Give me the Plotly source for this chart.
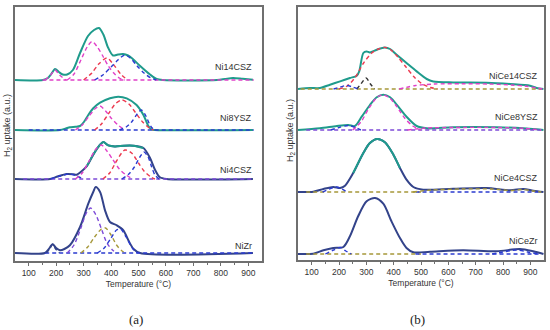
import plotly.graph_objects as go

# ---------------- DATA (temperature °C, H2 uptake a.u. above each baseline) ----------------
# Panel (a) measured profiles
ni14csz = [(50,0),(152,0),(170,2),(182,6),(196,11),(210,8),(224,5.5),(240,5.5),(261,10),(287,27),(316,44),(338,50),(356,52),(372,45.5),(389,32.5),(407,24.5),(425,25.5),(444,26),(462,24.5),(475,22),(506,14),(542,5.5),(566,1),(589,0),(786,0),(815,1),(844,2),(880,1.2),(917,0.3)]
ni8ysz = [(50,0),(214,0),(235,1.5),(250,2.7),(270,3.2),(287,4),(301,8),(317,15),(335,21.7),(360,27.3),(396,31.7),(426,33.3),(457,31.7),(493,25),(518,15),(536,4),(548,0.5),(560,0),(917,0)]
ni4csz = [(50,0),(178,0),(205,2.5),(238,5),(262,4.8),(275,4.3),(311,12.6),(335,24.3),(360,34.3),(372,37),(390,33.6),(414,32.6),(447,33.3),(481,33.3),(518,31),(542,21),(560,9.3),(578,1.7),(603,0),(917,0)]
nizr = [(50,0),(159,0),(172,3.5),(187,8.7),(200,5),(214,2.7),(230,4),(250,7.7),(287,26),(317,49.3),(335,61),(344,66),(360,61),(378,42.7),(396,31),(421,27.7),(445,22.7),(463,12.7),(481,4.3),(506,0),(917,0)]

# Panel (a) fitted components
ni14_c_low = [(160,0),(180,5),(196,10),(212,5),(235,0)]
ni14_c_mag = [(240,0),(265,6),(290,20),(315,34),(331,38.5),(350,33),(370,24),(390,14),(410,7),(430,2),(450,0)]
ni14_c_red = [(300,0),(330,7),(355,16),(385,22),(410,15),(435,6),(460,0)]
ni14_c_blu = [(340,0),(370,5),(400,13),(425,20),(450,25),(470,22),(495,14),(520,7),(545,2),(565,0)]
ni8_c_mag = [(270,0),(295,5),(320,14),(345,22),(360,24),(380,19),(400,12),(425,5),(450,0)]
ni8_c_red = [(340,0),(365,6),(390,16),(415,26),(440,30),(465,26),(490,17),(515,8),(540,2),(555,0)]
ni8_c_blu = [(430,0),(455,3),(475,8),(495,16),(510,20),(525,15),(540,6),(550,2),(560,0)]
ni4_c_low = [(180,0),(215,3),(250,5),(275,3),(300,0)]
ni4_c_mag = [(270,0),(295,6),(320,18),(345,30),(365,34),(385,28),(405,20),(430,10),(455,4),(480,0)]
ni4_c_red = [(370,0),(395,6),(420,18),(450,29),(475,26),(500,16),(520,8),(545,2),(560,0)]
ni4_c_blu = [(440,0),(465,5),(485,12),(505,22),(520,27),(535,22),(548,12),(560,4),(575,0)]
nizr_c_low = [(165,0),(178,5),(187,8.7),(198,4),(212,0)]
nizr_c_pur = [(240,0),(265,8),(290,25),(310,40),(325,45),(345,38),(365,24),(385,10),(405,3),(420,0)]
nizr_c_olv = [(290,0),(315,6),(340,16),(365,24),(380,25),(400,18),(420,8),(440,2),(455,0)]
nizr_c_blu = [(350,0),(375,5),(400,15),(420,23),(435,24),(455,16),(475,6),(490,1),(500,0)]

# Panel (b) measured profiles
nice14csz = [(50,0),(94,1),(130,1),(167,4.3),(204,7.6),(240,11),(265,13.3),(274,17.6),(289,36),(301,37.6),(313,36.6),(338,39.3),(368,41.6),(387,40),(411,34.3),(447,26),(484,17.6),(521,10),(545,7.6),(618,6.6),(740,6.3),(826,5),(899,3.3),(923,1),(948,0)]
nice8ysz = [(50,0),(130,1.7),(192,4),(234,5),(258,4),(283,13.3),(313,25),(338,32.7),(362,35.3),(387,32.7),(417,23.3),(447,13.3),(484,4),(521,1.7),(618,2.7),(776,2.7),(874,1.7),(923,0.7),(948,0)]
nice4csz = [(50,0),(106,0.3),(143,3),(179,5),(204,4),(222,6.3),(252,19),(289,39),(313,49),(340,53),(368,49.7),(399,37.3),(423,24),(447,12.3),(472,5),(508,2.3),(618,3.3),(740,4),(826,1.7),(874,3),(911,1.3),(948,0)]
nicezr = [(50,0),(106,0.3),(143,3.7),(179,6),(216,7),(240,17.7),(270,37.7),(301,52.7),(332,56),(362,50.3),(392,32.7),(423,16),(447,6),(472,1.7),(533,2.3),(654,3.7),(776,2.7),(862,5),(911,2.7),(948,0)]

# Panel (b) fitted components
nice14_c_red = [(200,0),(230,3),(260,12),(290,26),(320,36),(345,40),(368,41.6),(390,39),(415,32),(445,22),(475,12),(505,5),(535,1.5),(560,0)]
nice14_c_blk = [(265,0),(280,5),(299,11),(315,5),(330,0)]
nice14_c_blu = [(180,0),(205,2),(228,3.5),(250,2),(270,0)]
nice14_c_hi = [(420,0),(480,3.5),(550,5),(650,5.3),(750,5),(830,4),(880,3),(920,1.2),(945,0)]
nice8_c_mag = [(250,0),(280,8),(310,22),(340,33),(362,35),(385,32),(410,24),(440,12),(470,4),(500,0)]
nice8_c_blu = [(170,0),(200,2.5),(235,4.5),(255,3),(280,0)]
nice8_c_hi = [(450,0),(520,2),(620,2.5),(780,2.5),(880,1.6),(940,0)]
nice4_c_blu = [(140,0),(165,3),(190,5),(210,3),(230,0)]
nice4_c_hi = [(470,0),(540,2),(650,3),(760,3),(830,1.5),(870,2.5),(910,1),(940,0)]
nicezr_c_blu = [(150,0),(180,4),(205,6.5),(225,3),(245,0)]
nicezr_c_hi = [(760,0),(800,2),(850,4),(890,2),(930,0)]

labels_a = ["Ni14CSZ", "Ni8YSZ", "Ni4CSZ", "NiZr"]
labels_b = ["NiCe14CSZ", "NiCe8YSZ", "NiCe4CSZ", "NiCeZr"]
x_ticks = [100, 200, 300, 400, 500, 600, 700, 800, 900]

# ---------------- LAYOUT CONSTANTS ----------------
off_a = {"Ni14CSZ": 181, "Ni8YSZ": 131, "Ni4CSZ": 82, "NiZr": 8}
off_b = {"NiCe14CSZ": 171, "NiCe8YSZ": 130, "NiCe4CSZ": 68, "NiCeZr": 6}
TEAL = "#1f9b8c"; NAVY = "#33438a"; MAG = "#e040c8"; RED = "#ec3a50"
BLU = "#2b3bd0"; PUR = "#7d4ad8"; OLV = "#a6983a"; BLK = "#333333"

fig = go.Figure()

def add(pts, off, axis, color, width=1.6, dash=None):
    xs = [p[0] for p in pts]
    ys = [p[1] + off for p in pts]
    line = dict(color=color, width=width, shape="spline", smoothing=0.8)
    if dash:
        line["dash"] = dash
    xa, ya = ("x", "y") if axis == "a" else ("x2", "y2")
    fig.add_trace(go.Scatter(x=xs, y=ys, mode="lines", line=line, xaxis=xa, yaxis=ya,
                             hoverinfo="skip", showlegend=False))

DASH = "4px,3px"
MW = 2.0

def base(off, axis, color, t0, t1):
    add([(t0, 0), (t1, 0)], off, axis, color, 1.4, DASH)

# panel (a)
add(ni14csz, off_a["Ni14CSZ"], "a", TEAL, MW)
base(off_a["Ni14CSZ"], "a", MAG, 150, 920)
for c, col in [(ni14_c_low, MAG), (ni14_c_mag, MAG), (ni14_c_red, RED), (ni14_c_blu, BLU)]:
    add(c, off_a["Ni14CSZ"], "a", col, 1.4, DASH)

add(ni8ysz, off_a["Ni8YSZ"], "a", TEAL, MW)
base(off_a["Ni8YSZ"], "a", BLU, 100, 920)
for c, col in [(ni8_c_mag, MAG), (ni8_c_red, RED), (ni8_c_blu, BLU)]:
    add(c, off_a["Ni8YSZ"], "a", col, 1.4, DASH)

add(ni4csz, off_a["Ni4CSZ"], "a", NAVY, MW)
add([p for p in ni4csz if 300 <= p[0] <= 530], off_a["Ni4CSZ"], "a", TEAL, MW)
base(off_a["Ni4CSZ"], "a", PUR, 80, 920)
for c, col in [(ni4_c_low, BLU), (ni4_c_mag, MAG), (ni4_c_red, RED), (ni4_c_blu, BLU)]:
    add(c, off_a["Ni4CSZ"], "a", col, 1.4, DASH)

add(nizr, off_a["NiZr"], "a", NAVY, MW)
base(off_a["NiZr"], "a", BLU, 160, 920)
for c, col in [(nizr_c_low, NAVY), (nizr_c_pur, PUR), (nizr_c_olv, OLV), (nizr_c_blu, BLU)]:
    add(c, off_a["NiZr"], "a", col, 1.4, DASH)

# panel (b)
add(nice14csz, off_b["NiCe14CSZ"], "b", TEAL, MW)
base(off_b["NiCe14CSZ"], "b", OLV, 60, 940)
for c, col in [(nice14_c_red, RED), (nice14_c_blk, BLK), (nice14_c_blu, BLU), (nice14_c_hi, MAG)]:
    add(c, off_b["NiCe14CSZ"], "b", col, 1.4, DASH)

add(nice8ysz, off_b["NiCe8YSZ"], "b", TEAL, MW)
base(off_b["NiCe8YSZ"], "b", PUR, 80, 940)
for c, col in [(nice8_c_mag, MAG), (nice8_c_blu, BLU), (nice8_c_hi, MAG)]:
    add(c, off_b["NiCe8YSZ"], "b", col, 1.4, DASH)

add(nice4csz, off_b["NiCe4CSZ"], "b", NAVY, MW)
add([p for p in nice4csz if 250 <= p[0] <= 430], off_b["NiCe4CSZ"], "b", TEAL, MW)
base(off_b["NiCe4CSZ"], "b", OLV, 80, 500)
base(off_b["NiCe4CSZ"], "b", BLU, 480, 940)
for c, col in [(nice4_c_blu, BLU), (nice4_c_hi, OLV)]:
    add(c, off_b["NiCe4CSZ"], "b", col, 1.4, DASH)

add(nicezr, off_b["NiCeZr"], "b", NAVY, MW)
base(off_b["NiCeZr"], "b", OLV, 80, 500)
base(off_b["NiCeZr"], "b", BLU, 480, 940)
for c, col in [(nicezr_c_blu, BLU), (nicezr_c_hi, BLU)]:
    add(c, off_b["NiCeZr"], "b", col, 1.4, DASH)

W, H = 550, 330
AX = "#6f6f6f"
FONT = "Liberation Sans, Arial, sans-serif"
xcommon = dict(range=[50, 950], tickvals=x_ticks, ticks="outside", ticklen=3, tickcolor=AX,
               showline=True, linecolor=AX, linewidth=1.5, mirror=True, showgrid=False, zeroline=False,
               tickfont=dict(family=FONT, size=8.5, color="#333"),
               minor=dict(tickvals=[150, 250, 350, 450, 550, 650, 750, 850], ticks="outside", ticklen=2, tickcolor=AX),
               title=dict(text="Temperature (°C)", font=dict(family=FONT, size=8.5, color="#333"), standoff=4))
ycommon = dict(showline=True, linecolor=AX, linewidth=1.5, mirror=True, showgrid=False, zeroline=False,
               showticklabels=False, ticks="")

fig.update_layout(
    width=W, height=H, margin=dict(l=0, r=0, t=0, b=0),
    paper_bgcolor="white", plot_bgcolor="white",
    xaxis=dict(domain=[15 / W, 262 / W], anchor="y", **xcommon),
    yaxis=dict(domain=[1 - 261 / H, 1 - 7 / H], range=[0, 254], anchor="x", **ycommon),
    xaxis2=dict(domain=[298 / W, 544 / W], anchor="y2", **xcommon),
    yaxis2=dict(domain=[1 - 260 / H, 1 - 7 / H], range=[0, 253], anchor="x2", **ycommon),
)

ann = []
lab_font = dict(family=FONT, size=9, color="#333")
for name, ypx in zip(labels_a, [67, 118, 170, 246]):
    ann.append(dict(text=name, x=254 / W, y=1 - ypx / H, xref="paper", yref="paper",
                    xanchor="right", yanchor="middle", showarrow=False, font=lab_font))
for name, ypx in zip(labels_b, [76, 117, 178, 241]):
    ann.append(dict(text=name, x=540 / W, y=1 - ypx / H, xref="paper", yref="paper",
                    xanchor="right", yanchor="middle", showarrow=False, font=lab_font))
for xpx, ypx in [(7, 126), (290, 131)]:
    ann.append(dict(text="H<sub>2</sub> uptake (a.u.)", x=xpx / W, y=1 - ypx / H, xref="paper", yref="paper",
                    xanchor="center", yanchor="middle", textangle=-90, showarrow=False,
                    font=dict(family=FONT, size=9, color="#333")))
for txt, xpx in [("(a)", 136), ("(b)", 417)]:
    ann.append(dict(text=txt, x=xpx / W, y=1 - 319 / H, xref="paper", yref="paper",
                    xanchor="center", yanchor="middle", showarrow=False,
                    font=dict(family="Liberation Serif, Times New Roman, serif", size=13, color="#222")))
fig.update_layout(annotations=ann)

fig.write_html("out.html", config={"displayModeBar": False},
               post_script="document.body.style.margin='0';document.body.style.padding='0';")
